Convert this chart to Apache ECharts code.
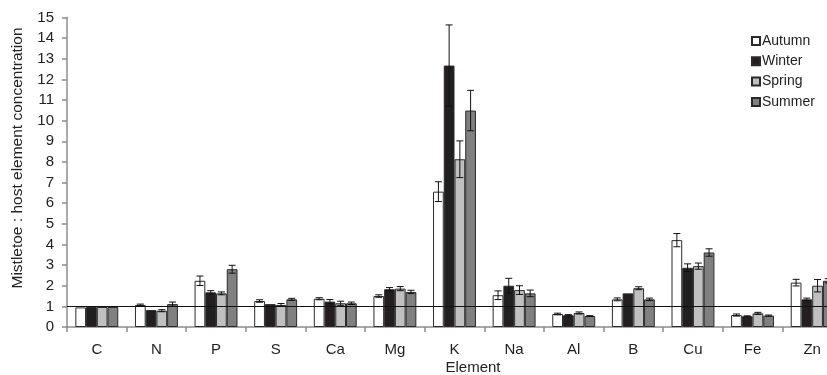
<!DOCTYPE html>
<html>
<head>
<meta charset="utf-8">
<script src="https://cdn.jsdelivr.net/npm/echarts@6/dist/echarts.min.js"></script>
<style>
  html, body { margin: 0; padding: 0; background: #fff; overflow: hidden; }
  #chart { width: 827px; height: 375px; }
</style>
</head>
<body>
<div id="chart"></div>
<script>
// Mistletoe : host element concentration ratios by season
var categories = ['C', 'N', 'P', 'S', 'Ca', 'Mg', 'K', 'Na', 'Al', 'B', 'Cu', 'Fe', 'Zn'];
var seasons = ['Autumn', 'Winter', 'Spring', 'Summer'];

var autumn    = [0.95, 1.07, 2.24, 1.26, 1.37, 1.50, 6.56, 1.54, 0.63, 1.34, 4.21, 0.58, 2.15];
var autumnErr = [0, 0.04, 0.23, 0.06, 0.05, 0.06, 0.48, 0.21, 0.04, 0.07, 0.32, 0.05, 0.16];
var winter    = [0.97, 0.82, 1.68, 1.11, 1.23, 1.83, 12.67, 2.00, 0.57, 1.63, 2.87, 0.52, 1.34];
var winterErr = [0, 0, 0.08, 0, 0.10, 0.08, 1.97, 0.36, 0.03, 0, 0.19, 0.02, 0.06];
var spring    = [0.97, 0.79, 1.63, 1.07, 1.15, 1.86, 8.13, 1.79, 0.68, 1.88, 2.95, 0.66, 2.00];
var springErr = [0, 0.05, 0.07, 0.07, 0.10, 0.10, 0.89, 0.21, 0.05, 0.07, 0.15, 0.05, 0.30];
var summer    = [0.97, 1.11, 2.80, 1.34, 1.15, 1.70, 10.49, 1.63, 0.53, 1.34, 3.61, 0.55, 2.24];
var summerErr = [0, 0.10, 0.19, 0.05, 0.06, 0.08, 0.98, 0.16, 0.02, 0.06, 0.18, 0.03, 0.10];

var yTicks = [0, 1, 2, 3, 4, 5, 6, 7, 8, 9, 10, 11, 12, 13, 14, 15];

var values = [autumn, winter, spring, summer];
var errors = [autumnErr, winterErr, springErr, summerErr];
var fills = ['#ffffff', '#231f20', '#c0c0c0', '#808080'];

var CATEGORY_GAP = 0.28;
var FONT = '"Liberation Sans", Arial, sans-serif';

var series = [];
seasons.forEach(function (name, s) {
  var bar = {
    name: name,
    type: 'bar',
    data: values[s],
    barGap: '0%',
    barCategoryGap: (CATEGORY_GAP * 100) + '%',
    itemStyle: { color: fills[s], borderColor: '#2a2a2a', borderWidth: 1 },
    emphasis: { disabled: true },
    animation: false
  };
  if (s === seasons.length - 1) {
    bar.markLine = {
      silent: true,
      symbol: ['none', 'none'],
      label: { show: false },
      lineStyle: { color: '#111', width: 1.2, type: 'solid' },
      data: [{ yAxis: 1 }]
    };
  }
  series.push(bar);
});

// error bars, placed at the centre of each season's bar
seasons.forEach(function (name, s) {
  var data = values[s].map(function (v, i) { return [i, v, errors[s][i]]; });
  series.push({
    type: 'custom',
    name: name + ' error',
    data: data,
    z: 5,
    silent: true,
    animation: false,
    renderItem: function (params, api) {
      var i = api.value(0), v = api.value(1), e = api.value(2);
      if (!e) return null;
      var band = api.size([1, 0])[0];
      var group = band * (1 - CATEGORY_GAP);
      var bw = group / seasons.length;
      var centre = api.coord([i, v]);
      var x = centre[0] - group / 2 + bw * (s + 0.5);
      var top = api.coord([i, v + e])[1];
      var bot = api.coord([i, v - e])[1];
      var cap = 3.5;
      var style = { stroke: '#111', lineWidth: 1 };
      return {
        type: 'group',
        children: [
          { type: 'line', shape: { x1: x, y1: top, x2: x, y2: bot }, style: style },
          { type: 'line', shape: { x1: x - cap, y1: top, x2: x + cap, y2: top }, style: style },
          { type: 'line', shape: { x1: x - cap, y1: bot, x2: x + cap, y2: bot }, style: style }
        ]
      };
    }
  });
});

var chart = echarts.init(document.getElementById('chart'), null, { renderer: 'canvas' });
chart.setOption({
  backgroundColor: '#ffffff',
  animation: false,
  textStyle: { fontFamily: FONT },
  // the plot runs past the right edge of the canvas, so the last group is cut off
  grid: {
    left: 67, width: 775, top: 17.5, bottom: 48,
    containLabel: false,
    outerBoundsMode: 'none'
  },
  legend: {
    data: seasons,
    orient: 'vertical',
    left: 751,
    top: 34,
    padding: 0,
    icon: 'rect',
    itemWidth: 8,
    itemHeight: 8,
    itemGap: 6.3,
    selectedMode: false,
    textStyle: { fontFamily: FONT, fontSize: 14, color: '#222', padding: [0, 0, 0, -3] }
  },
  xAxis: {
    type: 'category',
    data: categories,
    axisLine: { lineStyle: { color: '#8c8c8c', width: 1.5 } },
    axisTick: { show: true, alignWithLabel: false, length: 5, lineStyle: { color: '#8c8c8c', width: 1.5 } },
    axisLabel: { fontFamily: FONT, fontSize: 15, color: '#222', margin: 15 },
    splitLine: { show: false }
  },
  yAxis: {
    type: 'value',
    min: yTicks[0],
    max: yTicks[yTicks.length - 1],
    interval: 1,
    axisLine: { show: true, lineStyle: { color: '#8c8c8c', width: 1.5 } },
    axisTick: { show: true, length: 5, lineStyle: { color: '#8c8c8c', width: 1.5 } },
    axisLabel: { fontFamily: FONT, fontSize: 15, color: '#222', margin: 13 },
    splitLine: { show: false }
  },
  graphic: [
    {
      type: 'text',
      x: 18, y: 158,
      rotation: Math.PI / 2,
      style: {
        text: 'Mistletoe : host element concentration',
        fontFamily: FONT, fontSize: 15.5, fill: '#222',
        align: 'center', verticalAlign: 'middle'
      }
    },
    {
      type: 'text',
      x: 473, y: 368,
      style: {
        text: 'Element',
        fontFamily: FONT, fontSize: 15, fill: '#222',
        align: 'center', verticalAlign: 'middle'
      }
    }
  ],
  series: series
});
</script>
</body>
</html>
